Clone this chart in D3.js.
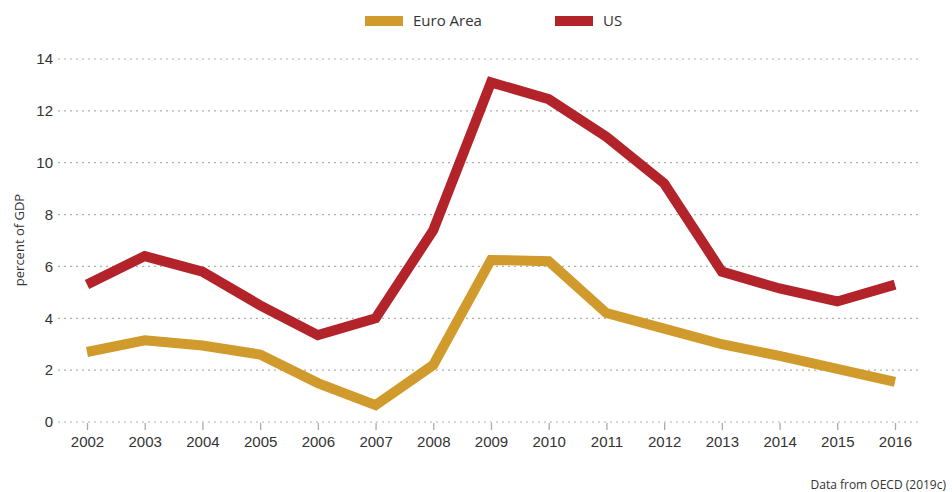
<!DOCTYPE html>
<html>
<head>
<meta charset="utf-8">
<script src="https://d3js.org/d3.v7.min.js"></script>
<style>
  body { margin: 0; background: #fff; }
  svg { font-family: "Open Sans", "Noto Sans", sans-serif; }
  .grid line { stroke: #b0b0b0; stroke-width: 1.2px; stroke-dasharray: 2,4; }
  .tick text { fill: #333; font-size: 15px; }
</style>
</head>
<body>
<script>
// data
var years = [2002, 2003, 2004, 2005, 2006, 2007, 2008, 2009, 2010, 2011, 2012, 2013, 2014, 2015, 2016];
var euroArea = [2.7, 3.15, 2.95, 2.6, 1.5, 0.65, 2.2, 6.25, 6.2, 4.2, 3.6, 3.0, 2.55, 2.05, 1.55];
var us = [5.3, 6.4, 5.8, 4.5, 3.35, 4.0, 7.4, 13.1, 12.45, 11.0, 9.2, 5.8, 5.15, 4.65, 5.3];
var yTicks = [0, 2, 4, 6, 8, 10, 12, 14];
var seriesNames = ["Euro Area", "US"];
var seriesColors = ["#D09B2C", "#B2232A"];

var W = 952, H = 492;
var svg = d3.select("body").append("svg").attr("width", W).attr("height", H);

var x = d3.scalePoint().domain(years).range([87, 895]);
var y = d3.scaleLinear().domain([0, 14]).range([422, 59]);

// horizontal dotted gridlines
svg.append("g")
    .attr("class", "grid")
    .selectAll("line")
    .data(yTicks)
    .enter().append("line")
    .attr("x1", 58).attr("x2", 922)
    .attr("y1", d => y(d)).attr("y2", d => y(d));

// y axis labels
svg.append("g")
    .attr("transform", "translate(53,0)")
    .call(d3.axisLeft(y).tickValues(yTicks).tickSize(0).tickPadding(0))
    .call(g => g.select(".domain").remove());

// x axis
svg.append("g")
    .attr("transform", "translate(0,423)")
    .call(d3.axisBottom(x).tickSize(7).tickPadding(6))
    .call(g => g.select(".domain").remove())
    .call(g => g.selectAll(".tick line").attr("stroke", "#aaa").attr("stroke-width", 1.3));

// y axis title
svg.append("text")
    .attr("transform", "translate(24,240) rotate(-90)")
    .attr("text-anchor", "middle")
    .attr("fill", "#333")
    .style("font-size", "13px")
    .text("percent of GDP");

var line = d3.line()
    .x((d, i) => x(years[i]))
    .y(d => y(d));

[euroArea, us].forEach(function(s, k) {
  svg.append("path")
      .datum(s)
      .attr("fill", "none")
      .attr("stroke", seriesColors[k])
      .attr("stroke-width", 10)
      .attr("stroke-linejoin", "miter")
      .attr("d", line);
});

// legend
var legendX = [365, 555];
seriesNames.forEach(function(n, k) {
  svg.append("rect")
      .attr("x", legendX[k]).attr("y", 16)
      .attr("width", 38).attr("height", 10)
      .attr("fill", seriesColors[k]);
  svg.append("text")
      .attr("x", legendX[k] + 48).attr("y", 26)
      .attr("fill", "#333")
      .style("font-size", "15px")
      .text(n);
});

// source note
svg.append("text")
    .attr("x", 946).attr("y", 489)
    .attr("text-anchor", "end")
    .attr("fill", "#333")
    .style("font-size", "12px")
    .text("Data from OECD (2019c)");
</script>
</body>
</html>
